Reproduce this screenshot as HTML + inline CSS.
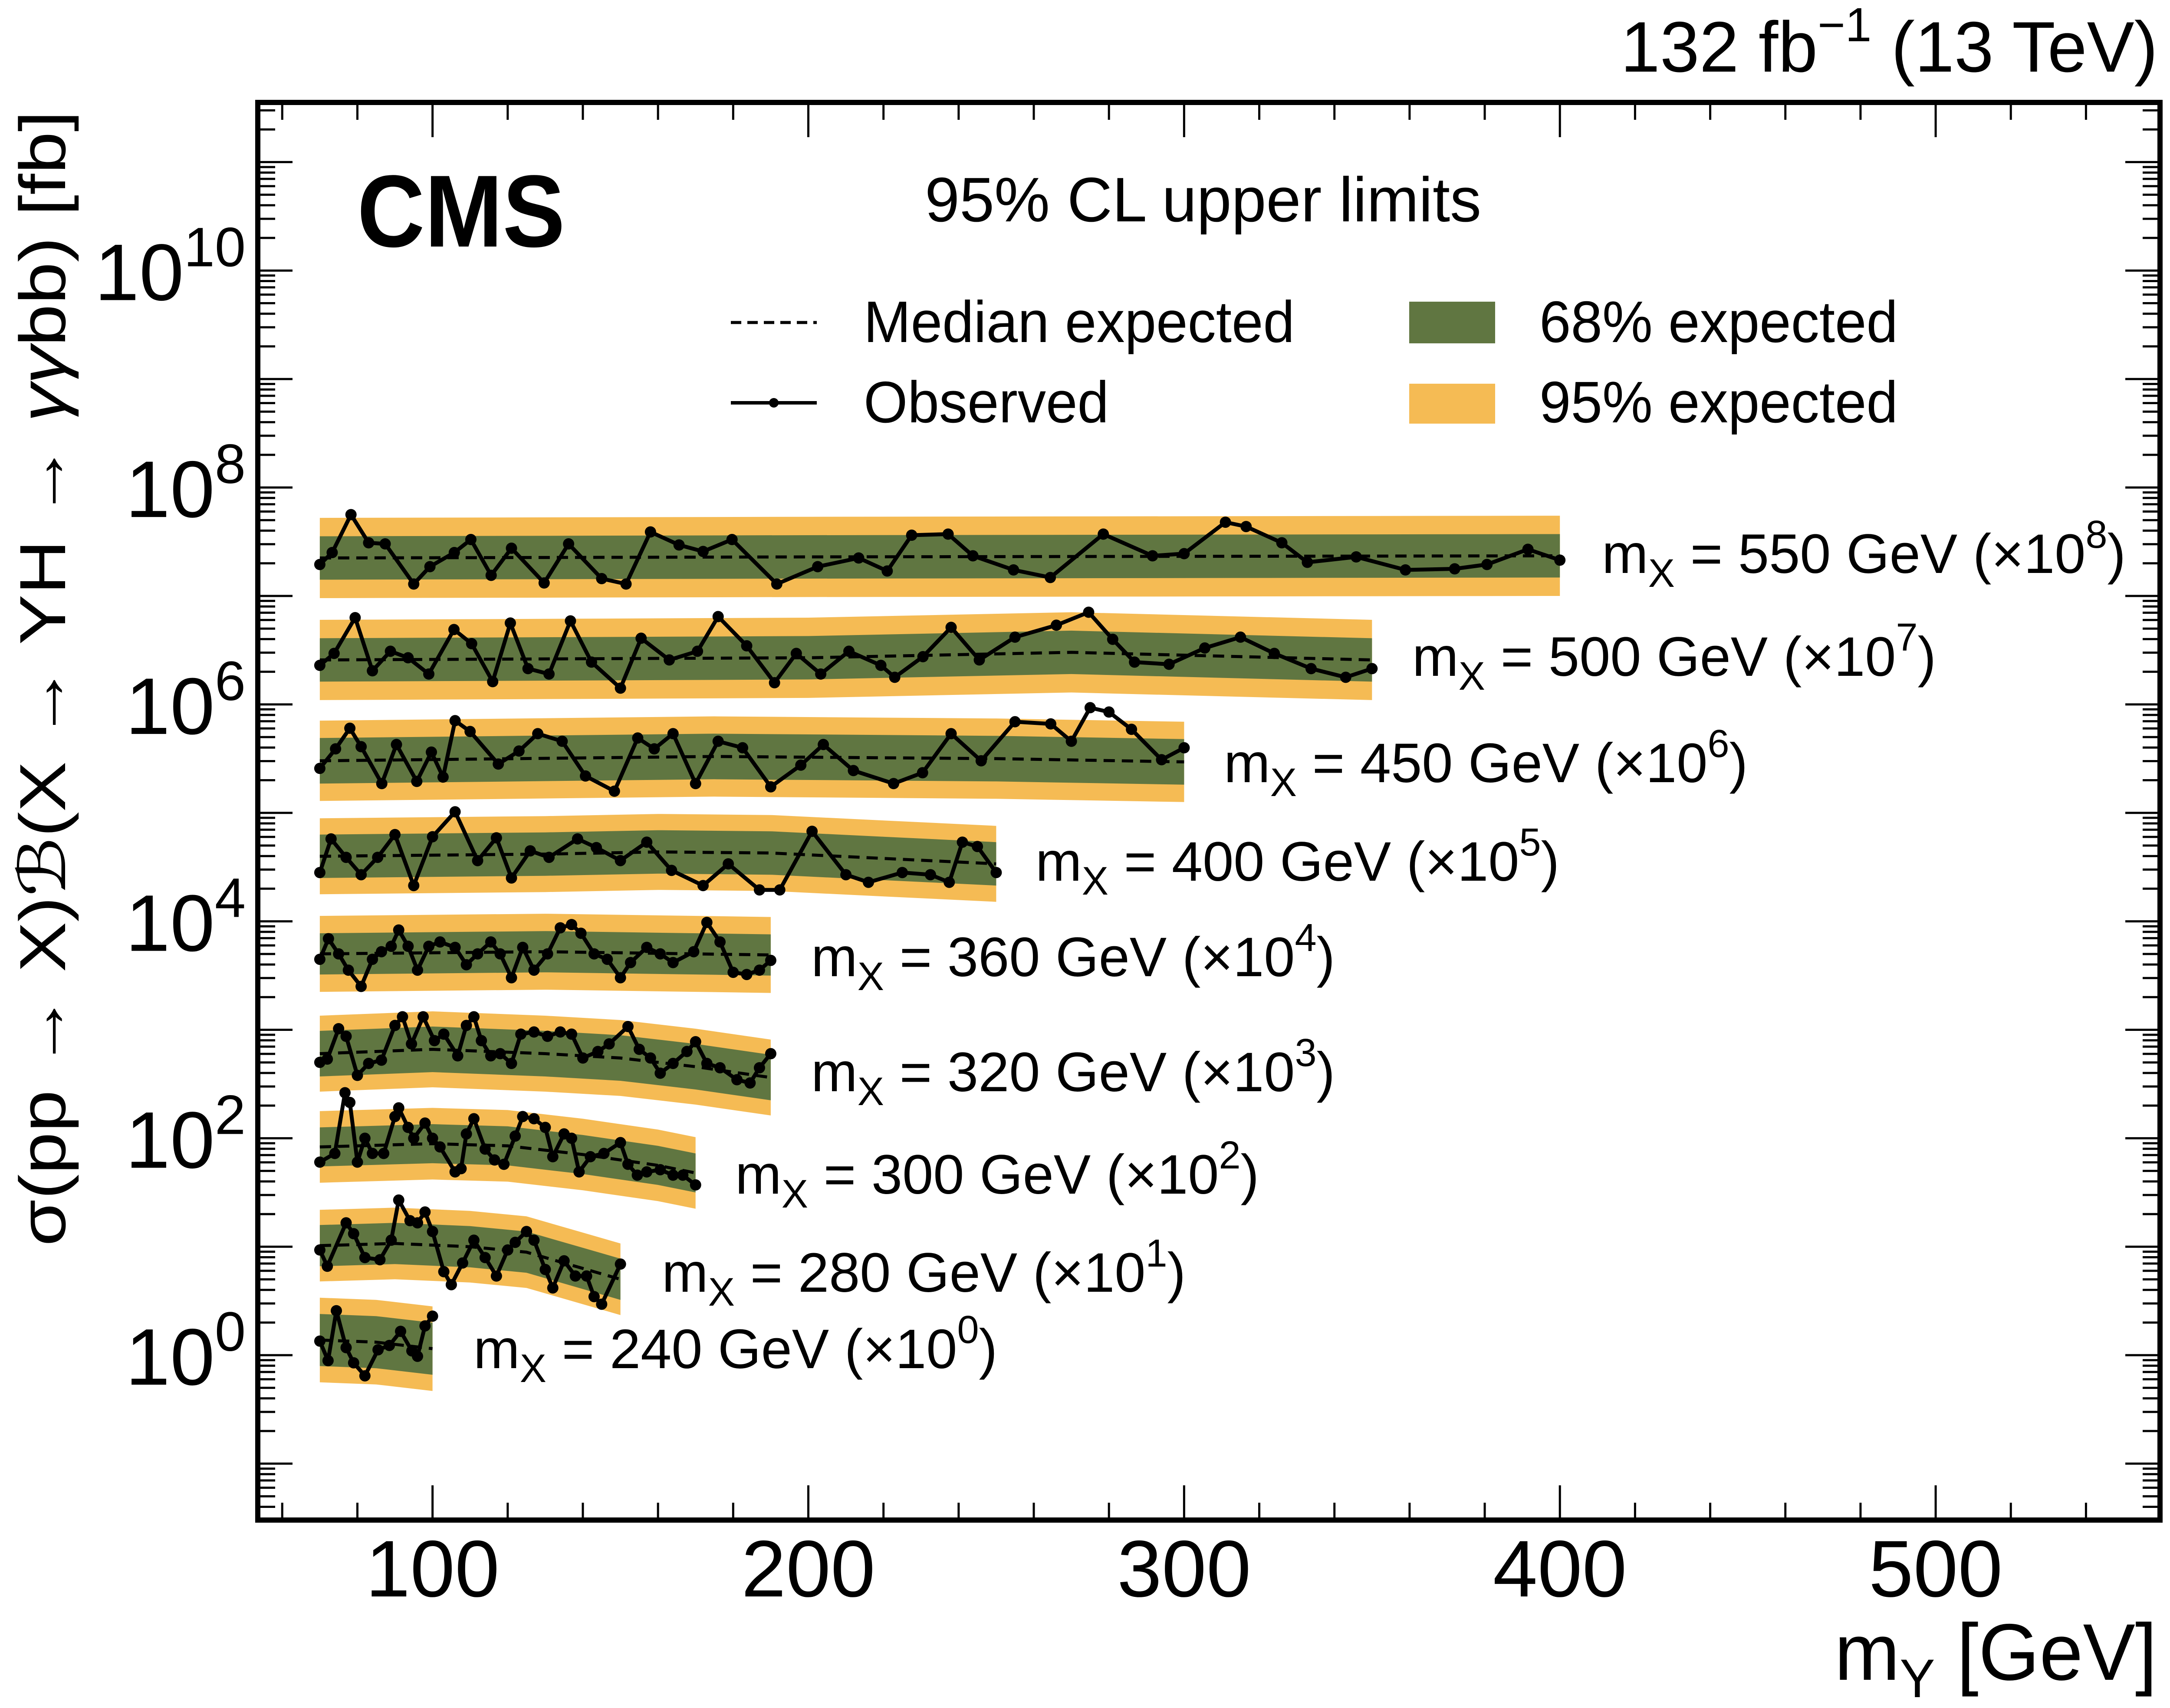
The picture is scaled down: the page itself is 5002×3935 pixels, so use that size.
<!DOCTYPE html>
<html><head><meta charset="utf-8"><title>CMS 95% CL upper limits</title>
<style>html,body{margin:0;padding:0;background:#fff}svg{display:block}text{font-family:"Liberation Sans","DejaVu Sans",sans-serif;fill:#000}</style>
</head><body>
<svg id="chart" xmlns="http://www.w3.org/2000/svg" width="5002" height="3935" viewBox="0 0 5002 3935">
<rect x="0" y="0" width="5002" height="3935" fill="#fff"/>
<defs><clipPath id="plotclip"><rect x="594" y="236" width="4383" height="3266"/></clipPath></defs>
<g id="bands" clip-path="url(#plotclip)"></g>
<g id="lines" clip-path="url(#plotclip)"></g>
<g id="axes"></g>
<g id="labels"></g>

<text x="4972" y="165" font-size="165" text-anchor="end" textLength="1238" lengthAdjust="spacingAndGlyphs">132 fb<tspan dy="-70" font-size="110">−1</tspan><tspan dy="70"> (13 TeV)</tspan></text>
<text x="823" y="568" font-size="236" font-weight="bold" textLength="479" lengthAdjust="spacingAndGlyphs">CMS</text>
<text x="2131" y="510" font-size="145" textLength="1282" lengthAdjust="spacingAndGlyphs">95% CL upper limits</text>

<g>
<line x1="1684" y1="743" x2="1882" y2="743" stroke="#000" stroke-width="7" stroke-dasharray="24 14"/>
<text x="1990" y="788" font-size="135" textLength="993" lengthAdjust="spacingAndGlyphs">Median expected</text>
<line x1="1684" y1="928" x2="1882" y2="928" stroke="#000" stroke-width="8"/>
<circle cx="1783" cy="928" r="11" fill="#000"/>
<text x="1990" y="973" font-size="135" textLength="565" lengthAdjust="spacingAndGlyphs">Observed</text>
<rect x="3247" y="695" width="198" height="96" fill="#607641"/>
<text x="3547" y="788" font-size="135" textLength="826" lengthAdjust="spacingAndGlyphs">68% expected</text>
<rect x="3247" y="884" width="198" height="92" fill="#F5BB54"/>
<text x="3547" y="973" font-size="135" textLength="826" lengthAdjust="spacingAndGlyphs">95% expected</text>
</g>

<text transform="translate(150,1563) rotate(-90)" font-size="150" text-anchor="middle" textLength="2616" lengthAdjust="spacingAndGlyphs">σ(pp → X)<tspan font-style="italic">ℬ</tspan>(X → YH → <tspan font-style="italic">γγ</tspan>bb) [fb]</text>
<text x="4970" y="3870" font-size="185" text-anchor="end" textLength="743" lengthAdjust="spacingAndGlyphs">m<tspan dy="40" font-size="125">Y</tspan><tspan dy="-40"> [GeV]</tspan></text>

<script>
// ---- axis data ----
const xTicksMajor = [100, 200, 300, 400, 500];
const xTickLabels = ["100", "200", "300", "400", "500"];
const yDecades = [0, 2, 4, 6, 8, 10];
const yTickExponents = ["0", "2", "4", "6", "8", "10"];
// ---- series data (masses in GeV, values as log10 of plotted, scaled limit) ----
const seriesNames = ["240", "280", "300", "320", "360", "400", "450", "500", "550"];
const seriesScaleExp = ["0", "1", "2", "3", "4", "5", "6", "7", "8"];
const band68 = [0.24, 0.19, 0.18, 0.21, 0.19, 0.20, 0.21, 0.20, 0.20];
const band95 = [0.39, 0.33, 0.33, 0.35, 0.35, 0.35, 0.37, 0.37, 0.37];
const expMass = [
 [70, 85, 100],
 [70, 90, 110, 125, 140, 150],
 [70, 100, 120, 140, 160, 170],
 [70, 100, 130, 150, 170, 190],
 [70, 130, 190],
 [70, 130, 160, 190, 220, 250],
 [70, 175, 250, 300],
 [70, 200, 270, 350],
 [70, 200, 400]
];
const expVal = [
 [0.14, 0.12, 0.06],
 [1.01, 1.03, 1.00, 0.95, 0.80, 0.70],
 [1.92, 1.95, 1.93, 1.85, 1.75, 1.68],
 [2.78, 2.82, 2.78, 2.74, 2.66, 2.56],
 [3.70, 3.72, 3.69],
 [4.60, 4.62, 4.64, 4.63, 4.58, 4.53],
 [5.48, 5.52, 5.50, 5.47],
 [6.41, 6.43, 6.48, 6.41],
 [7.35, 7.36, 7.37]
];
const obsMass240 = [70,72.2,74.4,77,79,82,85.5,88.5,91.5,94.5,96,98,100];
const obsVal240 = [0.13,-0.05,0.41,0.07,-0.07,-0.19,0.05,0.09,0.22,0.04,-0.01,0.27,0.36];
const obsMass280 = [70,72,77,79,82,86,89,91,94,96,98,100,103,105,108,111,114,117,120,122,125,127,130,132,135,138,141,143,145,150];
const obsVal280 = [0.97,0.82,1.22,1.12,0.90,0.88,1.06,1.43,1.24,1.22,1.32,1.14,0.77,0.65,0.85,1.06,0.90,0.73,0.97,1.04,1.14,1.06,0.79,0.62,0.87,0.73,0.73,0.54,0.47,0.84];
const obsMass300 = [70,74,76.7,78,80,82,84,87,90,91,93.5,95,98,100,102,106,107.6,109,111,114,116.5,119,122,124,127,130,132,135,137,139,142,145.6,150,152,154.5,157,160.6,164,166.6,170];
const obsVal300 = [1.78,1.86,2.42,2.33,1.78,2.0,1.86,1.86,2.2,2.28,2.1,2.0,2.14,2.0,1.92,1.69,1.72,2.04,2.18,1.90,1.80,1.76,2.02,2.2,2.18,2.1,1.83,2.04,2.0,1.69,1.83,1.86,1.96,1.76,1.66,1.69,1.71,1.66,1.66,1.57];
const obsMass320 = [70,72,75,77,80,83,86.4,90,92,94.4,97.5,100.5,103,106.7,109,111,113,115.5,118,121,123.5,127,130.6,134,137,140,144,147,152,155,158,160.6,164,167.7,170,173,176.5,181,184.5,187,190];
const obsVal320 = [2.70,2.73,3.01,2.94,2.58,2.69,2.72,3.04,3.12,2.87,3.12,2.9,2.96,2.76,3.04,3.12,2.9,2.76,2.78,2.69,2.96,2.98,2.94,2.98,2.96,2.74,2.8,2.87,3.03,2.82,2.74,2.6,2.69,2.8,2.89,2.69,2.65,2.54,2.51,2.65,2.78];
const obsMass360 = [70,72.3,75,77.6,81,84,86.4,89,91,93.5,96,99,102,106,109,112,115.5,118,121,124,127,130.6,134,137,139.5,143,146.5,150,152.7,157,160.6,164,169.5,173,176.5,180,183.6,187,190];
const obsVal360 = [3.65,3.84,3.7,3.55,3.40,3.65,3.72,3.77,3.92,3.77,3.55,3.77,3.81,3.76,3.60,3.7,3.81,3.7,3.48,3.76,3.55,3.7,3.94,3.97,3.89,3.7,3.65,3.48,3.62,3.76,3.7,3.62,3.72,3.99,3.81,3.53,3.51,3.55,3.64];
const obsMass400 = [70,73,77,81,85.4,90,95,100,106,112,117,121,126,131,138.6,143.6,150,157,163.6,172,178.7,187,192.4,201,210,216,225,232.5,237.5,241,245,250];
const obsVal400 = [4.45,4.76,4.59,4.43,4.59,4.80,4.33,4.78,5.01,4.56,4.77,4.40,4.65,4.59,4.76,4.68,4.56,4.73,4.47,4.33,4.53,4.29,4.29,4.83,4.43,4.36,4.45,4.43,4.36,4.73,4.69,4.45];
const obsMass450 = [70,74.2,78,81,86.5,90.4,95.8,99.7,102.8,106,110,117.5,123,128,134.5,140.7,148.4,154.6,159,164,170,176,182.5,190,198,204,212,222.7,230.4,238,246,255,264.5,270,275,280,286,294,300];
const obsVal450 = [5.41,5.59,5.78,5.61,5.27,5.63,5.29,5.56,5.33,5.85,5.75,5.45,5.57,5.73,5.66,5.34,5.20,5.69,5.59,5.73,5.27,5.66,5.60,5.24,5.44,5.63,5.39,5.27,5.37,5.73,5.48,5.84,5.82,5.66,5.97,5.93,5.77,5.49,5.60];
const obsMass500 = [70,73.8,79.4,84,88.8,93.5,99,105.7,110.4,116,120.7,125.4,131,136.7,142.3,150,155.5,163,170.5,176,183.6,191,196.8,203.3,210.8,219.3,223,230.5,238,245.5,255,266,274.6,281,286.8,296,305.5,315,324,333.8,343,350];
const obsVal500 = [6.36,6.47,6.80,6.31,6.49,6.43,6.28,6.69,6.56,6.21,6.75,6.33,6.28,6.77,6.39,6.15,6.61,6.41,6.49,6.81,6.54,6.20,6.47,6.28,6.49,6.36,6.25,6.44,6.71,6.41,6.62,6.73,6.85,6.60,6.39,6.37,6.52,6.62,6.47,6.33,6.25,6.33];
const obsMass550 = [70,73.3,78.3,83,87.4,95,99.3,105.8,110.2,115.6,121,129.7,136.2,145,151.5,158,165.6,172,179.7,191.6,202.5,213.4,221,227.5,237.2,243.8,254.6,264.4,278.5,291.6,300,311,316.5,326,332.8,345.8,358.9,372,380.6,391.5,400];
const obsVal550 = [7.29,7.40,7.75,7.49,7.48,7.11,7.27,7.40,7.52,7.19,7.44,7.12,7.48,7.16,7.11,7.59,7.47,7.41,7.52,7.11,7.27,7.35,7.23,7.56,7.57,7.37,7.24,7.17,7.57,7.37,7.39,7.68,7.64,7.49,7.31,7.36,7.24,7.25,7.29,7.43,7.33];

const obsMass = [obsMass240, obsMass280, obsMass300, obsMass320, obsMass360, obsMass400, obsMass450, obsMass500, obsMass550];
const obsVal = [obsVal240, obsVal280, obsVal300, obsVal320, obsVal360, obsVal400, obsVal450, obsVal500, obsVal550];

// ---- geometry ----
const PL = 594, PR = 4977, PT = 236, PB = 3502;
const X_MIN = 53.5, X_MAX = 559.7, LOG_MIN = -1.52, LOG_MAX = 11.55;
function xs(m) { return PL + (m - X_MIN) / (X_MAX - X_MIN) * (PR - PL); }
function ys(l) { return PB - (l - LOG_MIN) / (LOG_MAX - LOG_MIN) * (PB - PT); }
const NS = "http://www.w3.org/2000/svg";
function mk(tag, attrs, parent) {
  const e = document.createElementNS(NS, tag);
  for (const k in attrs) e.setAttribute(k, attrs[k]);
  parent.appendChild(e);
  return e;
}
function span(parent, txt, attrs) {
  const s = mk("tspan", attrs, parent);
  s.textContent = txt;
  return s;
}
const gB = document.getElementById("bands"), gL = document.getElementById("lines");
const gA = document.getElementById("axes"), gT = document.getElementById("labels");

// series
for (let s = 0; s < seriesNames.length; s++) {
  const em = expMass[s], ev = expVal[s];
  const bandDefs = [[band95[s], "#F5BB54", "band95-"], [band68[s], "#607641", "band68-"]];
  for (const bd of bandDefs) {
    let pts = [];
    for (let i = 0; i < em.length; i++) pts.push(xs(em[i]).toFixed(1) + "," + ys(ev[i] + bd[0]).toFixed(1));
    for (let i = em.length - 1; i >= 0; i--) pts.push(xs(em[i]).toFixed(1) + "," + ys(ev[i] - bd[0]).toFixed(1));
    const p = mk("polygon", {points: pts.join(" "), fill: bd[1]}, gB);
    
    
  }
  let mp = [];
  for (let i = 0; i < em.length; i++) mp.push(xs(em[i]).toFixed(1) + "," + ys(ev[i]).toFixed(1));
  const med = mk("polyline", {points: mp.join(" "), fill: "none", stroke: "#000", "stroke-width": 7, "stroke-dasharray": "26 16"}, gL);
  
  
  const om = obsMass[s], ov = obsVal[s];
  let op = [];
  for (let i = 0; i < om.length; i++) op.push(xs(om[i]).toFixed(1) + "," + ys(ov[i]).toFixed(1));
  const obs = mk("polyline", {points: op.join(" "), fill: "none", stroke: "#000", "stroke-width": 9, "stroke-linejoin": "round"}, gL);
  
  
  for (let i = 0; i < om.length; i++) {
    const c = mk("circle", {cx: xs(om[i]).toFixed(1), cy: ys(ov[i]).toFixed(1), r: 13, fill: "#000"}, gL);
    
    
  }
}

// series labels
const labelX = [1091, 1525, 1694, 1869, 1869, 2386, 2820, 3254, 3691];
const labelY = [3152, 2976, 2750, 2514, 2249, 2029, 1802, 1557, 1320];
for (let s = 0; s < seriesNames.length; s++) {
  const t = mk("text", {x: labelX[s], y: labelY[s], "font-size": 128}, gT);
  
  
  span(t, "m", {});
  span(t, "X", {dy: 32, "font-size": 92});
  span(t, " = " + seriesNames[s] + " GeV (×10", {dy: -32});
  span(t, seriesScaleExp[s], {dy: -58, "font-size": 90});
  span(t, ")", {dy: 58});
}

// axes frame
const frame = mk("rect", {x: PL, y: PT, width: PR - PL, height: PB - PT, fill: "none", stroke: "#000", "stroke-width": 12}, gA);


// x ticks
for (let m = 60; m <= 540; m += 20) {
  const major = (m % 100 === 0);
  const len = major ? 80 : 40;
  const x = xs(m);
  const t1 = mk("line", {x1: x, y1: PB, x2: x, y2: PB - len, stroke: "#000", "stroke-width": 5}, gA);
  
  
  const t2 = mk("line", {x1: x, y1: PT, x2: x, y2: PT + len, stroke: "#000", "stroke-width": 5}, gA);
  
  
}
for (let i = 0; i < xTicksMajor.length; i++) {
  const t = mk("text", {x: xs(xTicksMajor[i]), y: 3678, "font-size": 185, "text-anchor": "middle"}, gA);
  
  
  t.textContent = xTickLabels[i];
}
// y ticks
for (let d = -2; d <= 11; d++) {
  for (let k = 1; k <= 9; k++) {
    const l = d + Math.log10(k);
    if (l < LOG_MIN || l > LOG_MAX) continue;
    const y = ys(l);
    const major = (k === 1);
    const len = major ? 80 : 40;
    const a = mk("line", {x1: PL, y1: y, x2: PL + len, y2: y, stroke: "#000", "stroke-width": 5}, gA);
    
    
    const b = mk("line", {x1: PR, y1: y, x2: PR - len, y2: y, stroke: "#000", "stroke-width": 5}, gA);
    
    
  }
}
for (let i = 0; i < yDecades.length; i++) {
  const y = ys(yDecades[i]);
  const t = mk("text", {x: 566, y: y + 68, "font-size": 185, "text-anchor": "end"}, gA);
  
  
  span(t, "10", {});
  span(t, yTickExponents[i], {dy: -78, "font-size": 128});
}
</script>
</svg>
</body></html>
